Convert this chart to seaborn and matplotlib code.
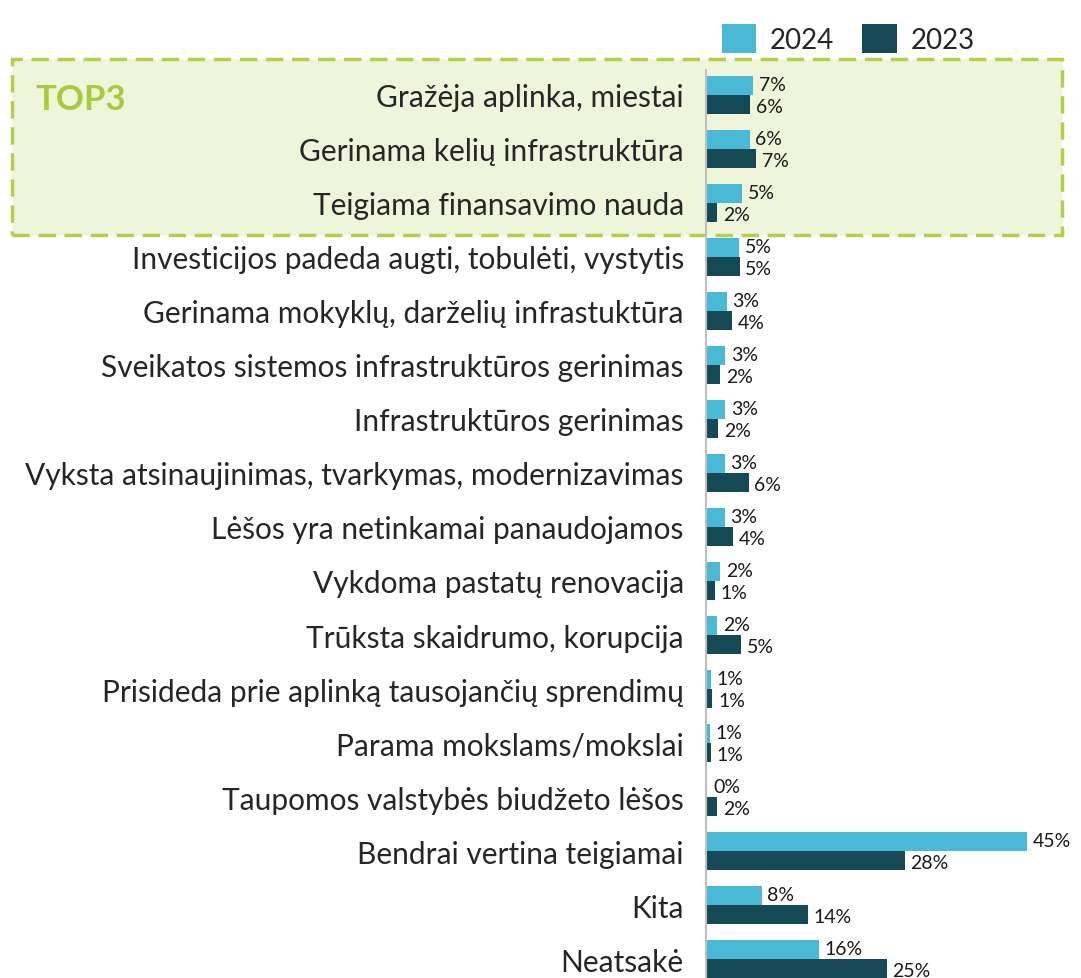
import pandas as pd
import matplotlib.pyplot as plt
import seaborn as sns
from matplotlib.patches import Rectangle

# categories and values (%)
categories = [
    "Gražėja aplinka, miestai",
    "Gerinama kelių infrastruktūra",
    "Teigiama finansavimo nauda",
    "Investicijos padeda augti, tobulėti, vystytis",
    "Gerinama mokyklų, darželių infrastuktūra",
    "Sveikatos sistemos infrastruktūros gerinimas",
    "Infrastruktūros gerinimas",
    "Vyksta atsinaujinimas, tvarkymas, modernizavimas",
    "Lėšos yra netinkamai panaudojamos",
    "Vykdoma pastatų renovacija",
    "Trūksta skaidrumo, korupcija",
    "Prisideda prie aplinką tausojančių sprendimų",
    "Parama mokslams/mokslai",
    "Taupomos valstybės biudžeto lėšos",
    "Bendrai vertina teigiamai",
    "Kita",
    "Neatsakė",
]
vals_2024 = [6.6, 6.1, 5.1, 4.6, 2.9, 2.7, 2.7, 2.6, 2.6, 2.0, 1.6, 0.7, 0.6, 0.2, 44.9, 7.8, 15.8]
vals_2023 = [6.2, 7.0, 1.6, 4.7, 3.6, 2.0, 1.7, 6.0, 3.8, 1.3, 4.9, 0.9, 0.7, 1.6, 27.8, 14.2, 25.3]
years = ["2024", "2023"]
colors = {"2024": "#4AB9D5", "2023": "#154955"}

df = pd.DataFrame({
    "Category": categories * 2,
    "Year": ["2024"] * len(categories) + ["2023"] * len(categories),
    "Value": vals_2024 + vals_2023,
})

sns.set_style("white")
plt.rcParams["font.family"] = ["Lato", "DejaVu Sans"]

fig = plt.figure(figsize=(10.81, 9.79), dpi=100)
ax = fig.add_axes([706 / 1081, 0, 1 - 706 / 1081, 1 - 71 / 979])
ax.patch.set_alpha(0)

# TOP3 highlight box behind the axes
box = Rectangle((12 / 1081, 1 - 236 / 979), 1050 / 1081, 176 / 979, transform=fig.transFigure,
                facecolor="#EEF5DB", edgecolor="#B2D147", linewidth=2.5,
                linestyle=(0, (5, 2.5)), zorder=-5)
fig.patches.append(box)
fig.text(36 / 1081, 1 - 100 / 979, "TOP3", color="#A8CB3B", fontsize=25, fontweight="bold",
         va="center", ha="left")

sns.barplot(data=df, y="Category", x="Value", hue="Year", hue_order=years, palette=colors,
            order=categories, orient="h", width=0.7, ax=ax, linewidth=0, saturation=1)

ax.set_xlim(0, 52.4)
ax.set_ylim(16.35, -0.46)
ax.set_xlabel("")
ax.set_ylabel("")
ax.set_xticks([])
ax.tick_params(axis="y", length=0, pad=16, labelsize=21.5)
for s in ["top", "right", "bottom"]:
    ax.spines[s].set_visible(False)
ax.spines["left"].set_color("#BFBFBF")
ax.spines["left"].set_linewidth(1.5)

# value labels
for container, dy in zip(ax.containers, [1, -1.5]):
    for bar in container:
        w = bar.get_width()
        ax.annotate(f"{w:.0f}%", (w, bar.get_y() + bar.get_height() / 2),
                    xytext=(4, dy), textcoords="offset points",
                    ha="left", va="center", fontsize=14, color="#1a1a1a")

handles, labels = ax.get_legend_handles_labels()
ax.get_legend().remove()
fig.legend(handles, labels, loc="upper right", bbox_to_anchor=(1000 / 1081, 1.0), ncol=2,
           frameon=False, fontsize=20, handlelength=1.25, handleheight=1.25,
           columnspacing=1.0, handletextpad=0.5)

fig.savefig("out.png", dpi=100)
